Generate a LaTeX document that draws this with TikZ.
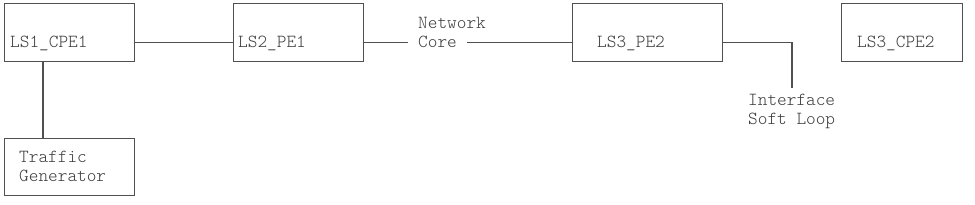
\documentclass[tikz,border=0pt]{standalone}
\usepackage{fontspec}
\definecolor{ink}{HTML}{505050}
\definecolor{txt}{HTML}{3C3C3C}
\begin{document}
\begin{tikzpicture}[x=1pt,y=-1pt,
  box/.style={draw=ink,line width=1.2pt,rectangle,inner sep=0pt,anchor=north west},
  lbl/.style={font=\ttfamily\fontseries{l}\fontsize{18.4}{19.5}\selectfont,text=txt,inner sep=0pt,anchor=base west},
  conn/.style={draw=ink,line width=1.1pt}]
\useasboundingbox[fill=white] (0,0) rectangle (975,204);
% boxes
\node[box,minimum width=130pt,minimum height=58pt] (cpe1) at (4,3) {};
\node[box,minimum width=130pt,minimum height=58pt] (pe1) at (233,3) {};
\node[box,minimum width=150pt,minimum height=58pt] (pe2) at (572,3) {};
\node[box,minimum width=121pt,minimum height=58pt] (cpe2) at (841,3) {};
\node[box,minimum width=130pt,minimum height=57pt] (tg) at (4,138) {};
% texts
\node[lbl] (tcpe1) at (10,47) {LS1\_CPE1};
\node[lbl] (tpe1) at (238,47) {LS2\_PE1};
\node[lbl] (tpe2) at (597,47) {LS3\_PE2};
\node[lbl] (tcpe2) at (857,47) {LS3\_CPE2};
\node[lbl] (ttg1) at (19,162) {Traffic};
\node[lbl] (ttg2) at (19,181) {Generator};
\node[lbl] (net) at (418,28) {Network};
\node[lbl,inner xsep=10pt] (core) at (408,47) {Core};
\node[lbl] (isl1) at (748,105) {Interface};
\node[lbl] (isl2) at (748,124) {Soft Loop};
\coordinate (loopend) at (792,88);
\coordinate (pe1r) at ([yshift=-10pt]pe1.east);
\coordinate (pe2l) at ([yshift=-10pt]pe2.west);
\coordinate (tgtop) at (tg.north -| 43,0);
\coordinate (cpe1bot) at (cpe1.south -| 43,0);
% connectors
\draw[conn] ([yshift=-10pt]cpe1.east) -- ([yshift=-10pt]pe1.west);
\draw[conn] (pe1r) -- (core.west |- pe1r);
\draw[conn] (core.east |- pe2l) -- (pe2l);
\draw[conn] ([yshift=-10pt]pe2.east) -| (loopend);
\draw[conn] (cpe1bot) -- (tgtop);
\end{tikzpicture}
\end{document}
